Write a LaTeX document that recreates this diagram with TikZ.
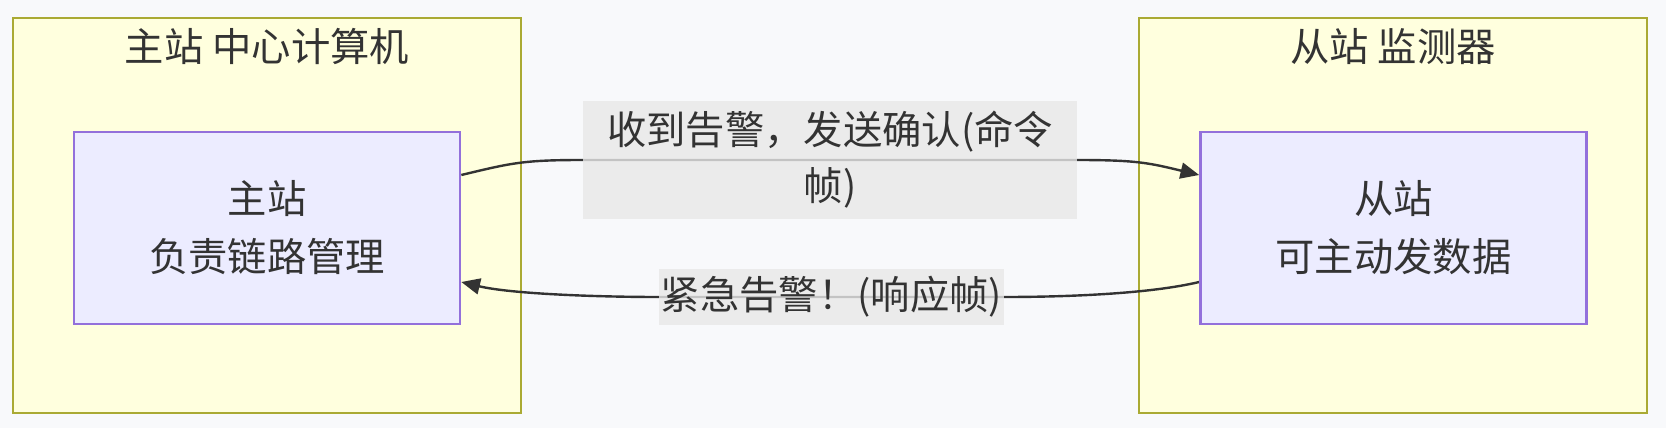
\documentclass[tikz,border=0pt]{standalone}
\usepackage{fontspec}
\setmainfont{Noto Sans CJK SC}
\usetikzlibrary{arrows.meta}
\usetikzlibrary{calc}
\definecolor{clusterfill}{HTML}{FFFFDE}
\definecolor{clusterline}{HTML}{AAAA33}
\definecolor{nodefill}{HTML}{ECECFF}
\definecolor{nodeline}{HTML}{9370DB}
\definecolor{labelfill}{HTML}{E8E8E8}
\definecolor{inkgray}{HTML}{333333}
\definecolor{pagebg}{HTML}{F8F9FB}
\pgfdeclarelayer{bg}
\pgfdeclarelayer{edges}
\pgfsetlayers{bg,edges,main}

\begin{document}
\begin{tikzpicture}[x=0.75pt,y=-0.75pt,
        every node/.style={text=inkgray,font=\fontsize{29.5}{43.5}\selectfont},
        cluster/.style={draw=clusterline,fill=clusterfill,line width=2pt,minimum width=381pt,minimum height=296pt,inner sep=0pt},
        station/.style={draw=nodeline,fill=nodefill,line width=2pt,minimum width=289.5pt,minimum height=144pt,align=center,inner sep=0pt},
        msg/.style={fill=labelfill,fill opacity=0.8,text opacity=1,align=center,inner sep=0pt,font=\fontsize{29.5}{42}\selectfont},
        link/.style={draw=inkgray,line width=1.8pt,-{Triangle[length=14pt,width=12pt]}}]
        \useasboundingbox (0,0) rectangle (1666,428);
        \begin{pgfonlayer}{bg}
            \fill[pagebg] (0,0) rectangle (1666,428);
            \node[cluster] (lclus) at (267,215.5) {};
            \node[cluster] (rclus) at (1393,215.5) {};
        \end{pgfonlayer}
        \node (ltitle) at ($(lclus.north)+(0,30)$) {主站 中心计算机};
        \node (rtitle) at ($(rclus.north)+(0,30)$) {从站 监测器};
        \node[station] (master) at (267,228) {主站\\负责链路管理};
        \node[station] (slave) at (1393.5,228) {从站\\可主动发数据};
        \node[msg,minimum width=370.5pt,minimum height=88.5pt] (ack) at (830,160) {收到告警，发送确认(命令\\帧)};
        \node[msg,minimum width=258.75pt,minimum height=42pt] (alarm) at (831.5,297) {紧急告警！(响应帧)};
        \begin{pgfonlayer}{edges}
            \draw[link] ($(master.east)+(0,-53)$) .. controls +(50,-12) and +(-60,0) .. (ack.west) -- (ack.east) .. controls +(60,0) and +(-50,-12) .. ($(slave.west)+(0,-53)$);
            \draw[link] ($(slave.west)+(0,54)$) .. controls +(-50,12) and +(60,0) .. (alarm.east) -- (alarm.west) .. controls +(-60,0) and +(50,12) .. ($(master.east)+(0,54)$);
        \end{pgfonlayer}
    \end{tikzpicture}
\end{document}
